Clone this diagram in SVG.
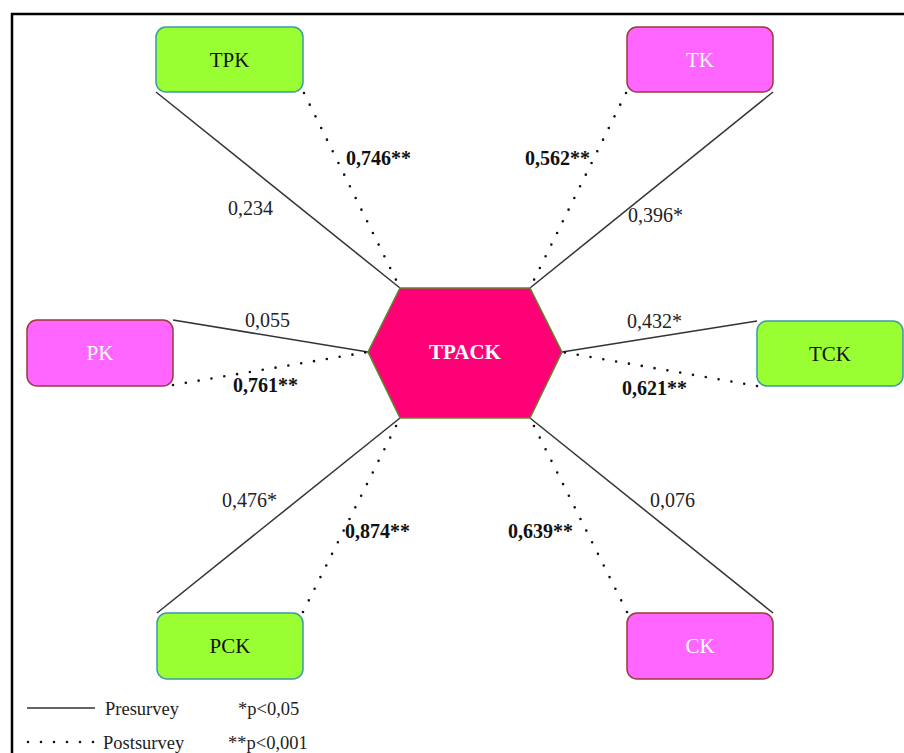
<svg xmlns="http://www.w3.org/2000/svg" width="904" height="753" viewBox="0 0 904 753">
  <style>
    .frame { stroke: #000; stroke-width: 2.5; fill: none; }
    .pre { stroke: #333; stroke-width: 1.5; fill: none; }
    .post { stroke: #111; stroke-width: 2.6; stroke-linecap: round; stroke-dasharray: 0 13; fill: none; }
    .green { fill: #99ff33; stroke: #3a9aa6; stroke-width: 1.5; }
    .pink { fill: #ff66ff; stroke: #9b3b3b; stroke-width: 1.5; }
    .hex { fill: #ff0077; stroke: #5a8a2a; stroke-width: 1.5; }
    .lbl { font-family: "Liberation Serif", "Times New Roman", serif; font-size: 21px; text-anchor: middle; }
    .dark { fill: #111; }
    .light { fill: #fff; }
    .val { font-family: "Liberation Serif", "Times New Roman", serif; font-size: 20px; fill: #222; }
    .sig { font-family: "Liberation Serif", "Times New Roman", serif; font-size: 20px; font-weight: bold; fill: #111; }
    .leg { font-family: "Liberation Serif", "Times New Roman", serif; font-size: 18.5px; fill: #222; }
  </style>

  <rect width="904" height="753" fill="#fff"/>
  <!-- page frame -->
  <path class="frame" d="M12 753 V14 H904"/>

  <!-- connectors: solid = presurvey, dotted = postsurvey -->
  <g id="connectors">
    <line class="pre" x1="156" y1="92" x2="400" y2="288"/>
    <line class="post" x1="304" y1="93" x2="400" y2="288"/>
    <line class="post" x1="626" y1="93" x2="530" y2="288"/>
    <line class="pre" x1="773" y1="92" x2="530" y2="288"/>
    <line class="pre" x1="173" y1="320" x2="368" y2="352"/>
    <line class="post" x1="173" y1="385" x2="368" y2="352"/>
    <line class="pre" x1="757" y1="321" x2="562" y2="352"/>
    <line class="post" x1="757" y1="386" x2="562" y2="352"/>
    <line class="pre" x1="157" y1="613" x2="400" y2="418"/>
    <line class="post" x1="303" y1="612" x2="400" y2="418"/>
    <line class="post" x1="627" y1="612" x2="530" y2="418"/>
    <line class="pre" x1="773" y1="613" x2="530" y2="418"/>
  </g>

  <g id="edge-labels">
    <text class="val" x="228" y="215">0,234</text>
    <text class="sig" x="346" y="165">0,746**</text>
    <text class="sig" x="525" y="165">0,562**</text>
    <text class="val" x="628" y="222">0,396*</text>
    <text class="val" x="245" y="327">0,055</text>
    <text class="sig" x="233" y="392">0,761**</text>
    <text class="val" x="627" y="328">0,432*</text>
    <text class="sig" x="622" y="395">0,621**</text>
    <text class="val" x="222" y="507">0,476*</text>
    <text class="sig" x="345" y="538">0,874**</text>
    <text class="sig" x="508" y="538">0,639**</text>
    <text class="val" x="650" y="507">0,076</text>
  </g>

  <g id="TPACK">
    <polygon class="hex" points="400,288 530,288 562,352 530,418 400,418 368,352"/>
    <text class="lbl light" x="465" y="359" font-weight="bold">TPACK</text>
  </g>
  <g id="TPK">
    <rect class="green" x="156" y="27" width="147" height="65" rx="10"/>
    <text class="lbl dark" x="229.5" y="67">TPK</text>
  </g>
  <g id="TK">
    <rect class="pink" x="627" y="27" width="146" height="65" rx="10"/>
    <text class="lbl light" x="700" y="67">TK</text>
  </g>
  <g id="PK">
    <rect class="pink" x="27" y="320" width="146" height="66" rx="10"/>
    <text class="lbl light" x="100" y="360">PK</text>
  </g>
  <g id="TCK">
    <rect class="green" x="757" y="321" width="146" height="65" rx="10"/>
    <text class="lbl dark" x="830" y="361">TCK</text>
  </g>
  <g id="PCK">
    <rect class="green" x="157" y="613" width="146" height="66" rx="10"/>
    <text class="lbl dark" x="230" y="653">PCK</text>
  </g>
  <g id="CK">
    <rect class="pink" x="627" y="613" width="146" height="66" rx="10"/>
    <text class="lbl light" x="700" y="653">CK</text>
  </g>

  <g id="legend">
    <line class="pre" x1="27" y1="708" x2="95" y2="708"/>
    <line class="post" x1="28" y1="742" x2="95" y2="742"/>
    <text class="leg" x="105" y="715">Presurvey</text>
    <text class="leg" x="103" y="749">Postsurvey</text>
    <text class="leg" x="238" y="715">*p&lt;0,05</text>
    <text class="leg" x="228" y="749">**p&lt;0,001</text>
  </g>
</svg>
